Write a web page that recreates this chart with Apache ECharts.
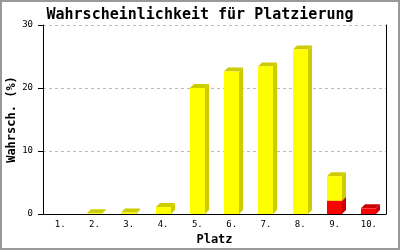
<!DOCTYPE html>
<html><head><meta charset="utf-8">
<script src="https://cdn.jsdelivr.net/npm/echarts@6/dist/echarts.min.js"></script>
<style>html,body{margin:0;padding:0;background:#fff}#c{width:400px;height:250px}</style>
</head><body><div id="c"></div>
<script>
const categories = ['1.','2.','3.','4.','5.','6.','7.','8.','9.','10.'];
const redValues = [0, 0, 0, 0, 0, 0, 0, 0, 2.1, 0.9];
const yellowValues = [0, 0.1, 0.25, 1.1, 20.0, 22.6, 23.4, 26.1, 3.9, 0];
const yTicks = [0, 10, 20, 30];

const chart = echarts.init(document.getElementById('c'), null, {renderer: 'canvas'});
const mono = 'DejaVu Sans Mono';

function build(base, vals) {
  return vals.map((v, i) => [i, base ? base[i] : 0, (base ? base[i] : 0) + v]);
}
const redData = build(null, redValues);
const yellowData = build(redValues, yellowValues);

function make3d(front, dark) {
  return function (params, api) {
    const i = api.value(0), b = api.value(1), t = api.value(2);
    if (t - b <= 0) return null;
    const band = api.size([1, 0])[0];
    const w = Math.round(band * 0.44);
    const d = 4;
    const cx = api.coord([i, 0])[0];
    const x0 = Math.round(cx - w / 2);
    const x1 = x0 + w;
    const yb = api.coord([i, b])[1];
    const yt = api.coord([i, t])[1];
    return {
      type: 'group',
      children: [
        {type: 'polygon', shape: {points: [[x1, yt], [x1 + d, yt - d], [x1 + d, yb - d], [x1, yb]]}, style: {fill: dark}},
        {type: 'polygon', shape: {points: [[x0, yt], [x0 + d, yt - d], [x1 + d, yt - d], [x1, yt]]}, style: {fill: dark}},
        {type: 'rect', shape: {x: x0, y: yt, width: w, height: yb - yt}, style: {fill: front}}
      ]
    };
  };
}

chart.setOption({
  animation: false,
  title: {
    text: 'Wahrscheinlichkeit für Platzierung',
    left: 'center', top: 3,
    textStyle: {fontFamily: mono, fontWeight: 'bold', fontSize: 15, color: '#000'}
  },
  graphic: [{type: 'rect', shape: {x: 1, y: 1, width: 398, height: 248}, style: {fill: 'none', stroke: '#999', lineWidth: 2}, silent: true}],
  grid: {left: 43, right: 14, top: 25, bottom: 36, containLabel: false, outerBoundsMode: 'none'},
  xAxis: {
    type: 'category', data: categories,
    name: 'Platz', nameLocation: 'middle', nameGap: 20, nameMoveOverlap: false,
    nameTextStyle: {fontFamily: mono, fontWeight: 'bold', fontSize: 12, color: '#000'},
    axisLine: {lineStyle: {color: '#000', width: 1}},
    axisTick: {show: false},
    axisLabel: {fontFamily: mono, fontSize: 9, color: '#000', margin: 6},
    splitLine: {show: false}
  },
  yAxis: [{
    type: 'value', min: 0, max: 30, interval: 10,
    name: 'Wahrsch. (%)', nameLocation: 'middle', nameGap: 25, nameRotate: 90, nameMoveOverlap: false,
    nameTextStyle: {fontFamily: mono, fontWeight: 'bold', fontSize: 12, color: '#000'},
    axisLine: {show: true, lineStyle: {color: '#000', width: 1}},
    axisTick: {show: true, length: 5, lineStyle: {color: '#000'}},
    axisLabel: {fontFamily: mono, fontSize: 9, color: '#000', margin: 10,
      formatter: v => yTicks.includes(v) ? String(v) : ''},
    splitLine: {show: true, lineStyle: {color: '#bbb', type: [3, 3], width: 1}}
  }, {
    type: 'value', min: 0, max: 30, interval: 10, position: 'right',
    axisLine: {show: true, lineStyle: {color: '#000', width: 1}},
    axisTick: {show: false}, axisLabel: {show: false}, splitLine: {show: false}
  }],
  series: [
    {type: 'custom', renderItem: make3d('#ff0000', '#cc0000'), data: redData, encode: {x: 0, y: [1, 2]}, z: 2},
    {type: 'custom', renderItem: make3d('#ffff00', '#cccc00'), data: yellowData, encode: {x: 0, y: [1, 2]}, z: 3}
  ]
});
</script></body></html>
